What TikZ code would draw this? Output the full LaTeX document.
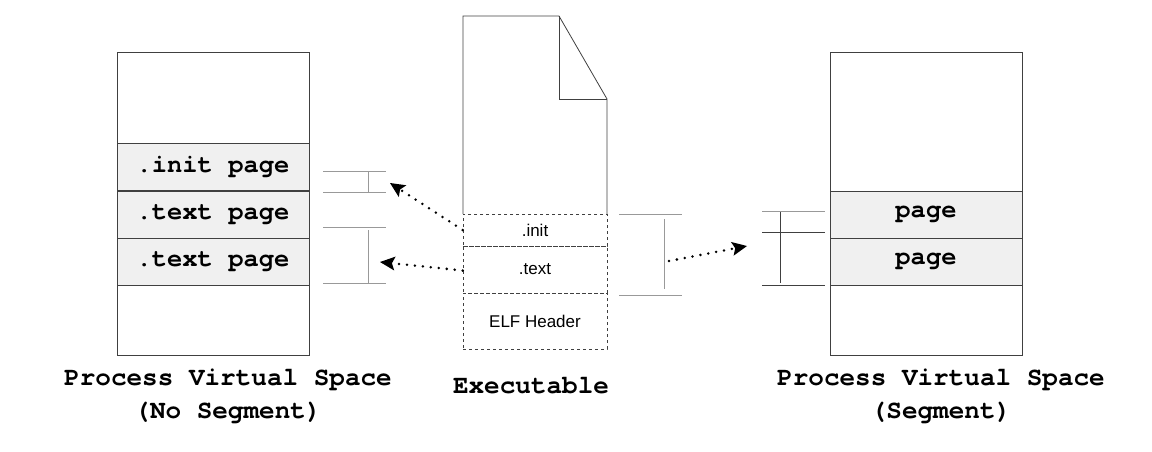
\documentclass[tikz,border=0pt]{standalone}
\usepackage{fontspec}
\setmonofont{TeX Gyre Cursor}
\setsansfont{Liberation Sans}
\usetikzlibrary{arrows.meta}
\definecolor{boxc}{HTML}{404040}
\definecolor{bandc}{HTML}{F0F0F0}
\definecolor{brk}{HTML}{999999}
\definecolor{brkd}{HTML}{404040}
\begin{document}
\begin{tikzpicture}[x=1pt,y=-1pt,
  vspace/.style={draw=boxc, line width=0.9pt, minimum width=192pt, minimum height=303pt, inner sep=0pt},
  band/.style={draw=boxc, line width=0.9pt, fill=bandc, minimum width=192pt, minimum height=47pt, inner sep=0pt,
    font=\ttfamily\bfseries\fontsize{25.5}{28}\selectfont},
  sect/.style={draw=boxc, dashed, line width=0.7pt, minimum width=144pt, inner sep=0pt,
    font=\sffamily\fontsize{17}{20}\selectfont},
  caption/.style={align=center, font=\ttfamily\bfseries\fontsize{26}{33}\selectfont},
  brkline/.style={draw=brk, line width=1pt},
  brklined/.style={draw=brkd, line width=0.8pt},
  maparrow/.style={line width=2.8pt, dash pattern=on 0pt off 8pt, line cap=round,
    -{Stealth[length=15pt,width=14pt,inset=3pt,line width=0pt,line cap=butt]}}
]
\useasboundingbox (0,0) rectangle (1152,451);
% left process space
\node[vspace] (lbox) at (213,203.5) {};
\node[band] (linit) at (213,167) {.init page};
\node[band] (ltext1) at (213,214.5) {.text page};
\node[band] (ltext2) at (213,261.5) {.text page};
\node[caption] (lcap) at (228,396) {Process Virtual Space\\(No Segment)};
% right process space
\node[vspace] (rbox) at (926,203.5) {};
\node[band] (rpage1) at (926,214.5) {page};
\node[band] (rpage2) at (926,261.5) {page};
\node[caption] (rcap) at (941,396) {Process Virtual Space\\(Segment)};
% executable
\draw[draw=boxc, line width=0.8pt] (463,214) -- (463,16) -- (559,16) -- (607,99) -- (607,214);
\draw[draw=boxc, line width=0.8pt] (559,16) -- (559,99) -- (607,99);
\node[sect, minimum height=32pt] (einit) at (535,230) {.init};
\node[sect, minimum height=47pt] (etext) at (535,269.5) {.text};
\node[sect, minimum height=56pt] (eelf) at (535,321) {ELF Header};
\node[caption] (ecap) at (531,386) {Executable};
% brackets left
\draw[brkline] (323,171) -- (386,171);
\draw[brkline] (323,192) -- (386,192);
\draw[brkline] (368,171) -- (368,192);
\draw[brkline] (323,227) -- (386,227);
\draw[brkline] (323,283) -- (386,283);
\draw[brkline] (368,230) -- (368,283);
% bracket executable
\draw[brkline] (619,214) -- (682,214);
\draw[brkline] (619,295) -- (682,295);
\draw[brkline] (664,219) -- (664,289);
% brackets right
\draw[brkline] (762,211) -- (825,211);
\draw[brklined] (762,232) -- (825,232);
\draw[brklined] (762,285) -- (825,285);
\draw[brklined] (780,212) -- (780,283);
% arrows
\coordinate (initTip) at (390,183);
\coordinate (textTip) at (380,262);
\coordinate (segStart) at (669,261);
\coordinate (segTip) at (747,246);
\draw[maparrow] (einit.west) -- (initTip);
\draw[maparrow] ([yshift=-1pt]etext.west) -- (textTip);
\draw[maparrow] (segStart) -- (segTip);
\end{tikzpicture}
\end{document}
